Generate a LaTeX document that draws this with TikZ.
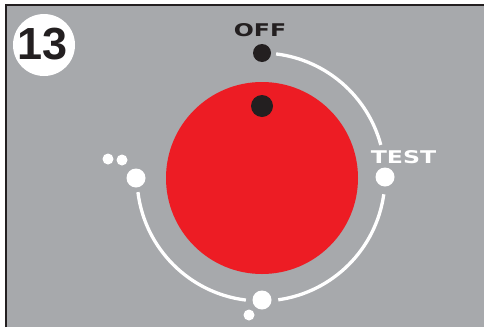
\documentclass[tikz,border=0pt]{standalone}
\usepackage{fontspec}
\setmainfont{Liberation Sans}
\newfontfamily\labelfont{DejaVu Sans}
\usetikzlibrary{positioning}
\definecolor{panelgray}{HTML}{A7A9AC}
\definecolor{knobred}{HTML}{ED1C24}
\definecolor{inkblack}{HTML}{231F20}

\begin{document}
\begin{tikzpicture}[x=1pt, y=-1pt,
    dot/.style={circle, fill=white, inner sep=0pt, minimum size=#1},
    track/.style={white, line width=3.3pt},
    widetext/.style={font=\labelfont\bfseries\fontsize{17.5}{17.5}\selectfont, inner sep=0pt, xscale=1.35}]
        \useasboundingbox (0,0) rectangle (484,327);
        \fill[white] (0,0) rectangle (484,327);
        \fill[panelgray] (6,5) rectangle (484,327);
        \draw[inkblack, line width=1.5pt] (6,327) -- (6,5) -- (484,5);
        % step number
        \node[circle, fill=white, minimum size=62pt, inner sep=0pt] (badge) at (44,45) {};
        \node[font=\bfseries\fontsize{45}{45}\selectfont, inkblack, inner sep=0pt] (num) at (42.5,44.5) {13};
        % knob
        \coordinate (c) at (261,177);
        \node[circle, fill=knobred, minimum size=192pt, inner sep=0pt] (knob) at (262,178) {};
        \node[circle, fill=inkblack, minimum size=22pt, inner sep=0pt] (pointer) at (262,106) {};
        % dial track
        \draw[track] ([shift={(-83:124)}]c) arc[start angle=-83, end angle=-15, radius=124];
        \draw[track] ([shift={(8:124)}]c) arc[start angle=8, end angle=82, radius=124];
        \draw[track] ([shift={(97:124)}]c) arc[start angle=97, end angle=173, radius=124];
        % positions
        \node[circle, fill=inkblack, minimum size=18pt, inner sep=0pt] (off) at (262,53) {};
        \node[dot=19pt] (test) at (385,177) {};
        \node[dot=19pt] (low) at (262,300) {};
        \node[dot=19pt] (high) at (136,178) {};
        \node[dot=11pt] (low1) at (249,315) {};
        \node[dot=11pt] (high1) at (108,159) {};
        \node[dot=11pt] (high2) at (122,160) {};
        % labels
        \node[widetext, inkblack] (offlbl) at (260,30.5) {OFF};
        \node[widetext, white] (testlbl) at (403.5,157.5) {TEST};
      \end{tikzpicture}
\end{document}
